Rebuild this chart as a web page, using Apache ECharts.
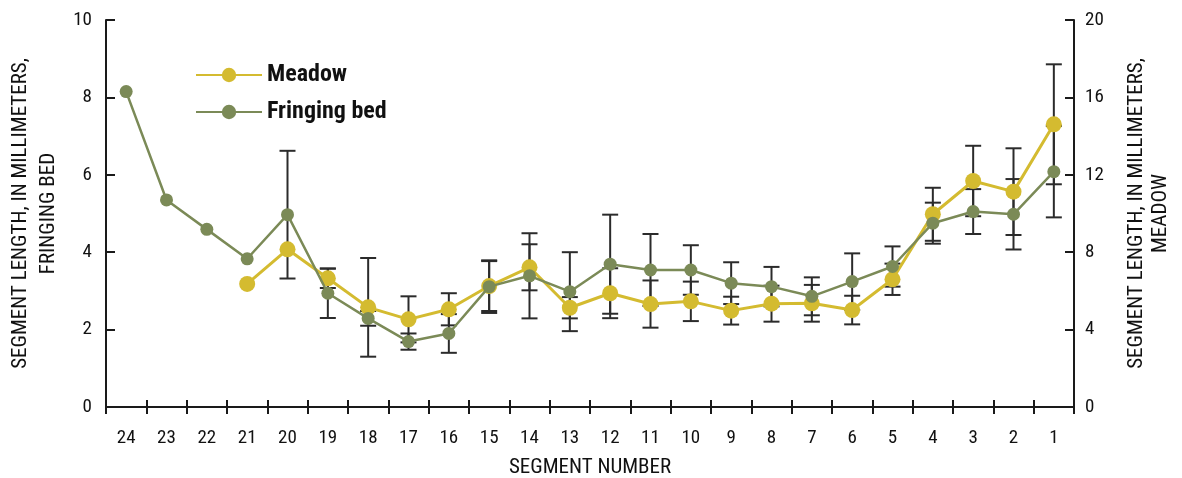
<!DOCTYPE html>
<html>
<head>
<meta charset="utf-8">
<script src="https://cdn.jsdelivr.net/npm/echarts@6/dist/echarts.min.js"></script>
<style>
html,body{margin:0;padding:0;background:#fff;}
#chart{width:1182px;height:478px;}
</style>
</head>
<body>
<div id="chart"></div>
<script>
// Data
var categories = ['24','23','22','21','20','19','18','17','16','15','14','13','12','11','10','9','8','7','6','5','4','3','2','1'];
// Fringing bed (left axis, mm)
var fringing = [8.15, 5.35, 4.59, 3.83, 4.97, 2.94, 2.29, 1.69, 1.90, 3.11, 3.39, 2.98, 3.69, 3.54, 3.54, 3.20, 3.11, 2.86, 3.24, 3.63, 4.75, 5.05, 4.98, 6.08];
var fringingErr = [null, null, null, null, 1.65, 0.64, 0.19, 0.21, 0.50, 0.68, 1.10, 1.02, 1.28, 0.93, 0.64, 0.54, 0.51, 0.49, 0.73, 0.52, 0.53, 0.58, 0.91, 1.18];
// Meadow (right axis, mm)
var meadow = [null, null, null, 6.36, 8.15, 6.65, 5.15, 4.53, 5.05, 6.25, 7.22, 5.13, 5.88, 5.32, 5.46, 4.98, 5.34, 5.36, 5.01, 6.60, 9.96, 11.68, 11.13, 14.61];
var meadowErr = [null, null, null, null, null, 0.50, 2.55, 1.19, 0.83, 1.29, 1.19, 0.55, 1.29, 1.22, 1.02, 0.72, 0.93, 0.95, 0.74, 0.81, 1.37, 1.82, 2.24, 3.10];
var leftTicks = [0, 2, 4, 6, 8, 10];
var rightTicks = [0, 4, 8, 12, 16, 20];

var FONT = "'Liberation Sans Narrow', 'Arial Narrow', 'Roboto Condensed', 'Liberation Sans', sans-serif";
var MEADOW_COLOR = '#d4bb30';
var FRINGE_COLOR = '#7b8a57';
var AXIS_COLOR = '#1a1a1a';

function errData(vals, errs) {
  var out = [];
  for (var i = 0; i < vals.length; i++) {
    if (vals[i] != null && errs[i] != null) out.push([i, vals[i], errs[i]]);
  }
  return out;
}

function renderErr(params, api) {
  var x = api.value(0), y = api.value(1), e = api.value(2);
  var top = api.coord([x, y + e]);
  var bot = api.coord([x, y - e]);
  var hw = 8;
  var st = {stroke: '#2b2b2b', lineWidth: 2};
  return {
    type: 'group',
    children: [
      {type: 'line', shape: {x1: top[0], y1: top[1], x2: bot[0], y2: bot[1]}, style: st},
      {type: 'line', shape: {x1: top[0] - hw, y1: top[1], x2: top[0] + hw, y2: top[1]}, style: st},
      {type: 'line', shape: {x1: bot[0] - hw, y1: bot[1], x2: bot[0] + hw, y2: bot[1]}, style: st}
    ]
  };
}

var chart = echarts.init(document.getElementById('chart'), null, {renderer: 'canvas'});
var axisLine = {show: true, lineStyle: {color: AXIS_COLOR, width: 2}};
var option = {
  animation: false,
  backgroundColor: '#fff',
  textStyle: {fontFamily: FONT},
  grid: {left: 106, right: 108, top: 20, bottom: 71, containLabel: false, outerBoundsMode: 'none'},
  legend: {
    orient: 'vertical',
    left: 190,
    top: 58,
    itemWidth: 66,
    itemHeight: 18,
    itemGap: 13,
    data: ['Meadow', 'Fringing bed'],
    textStyle: {fontFamily: FONT, fontSize: 24, fontWeight: 'bold', color: '#111'}
  },
  xAxis: [{
    type: 'category',
    data: categories,
    position: 'bottom',
    boundaryGap: true,
    axisLine: axisLine,
    axisTick: {show: true, inside: true, length: 7, lineStyle: {color: AXIS_COLOR, width: 2}},
    axisLabel: {fontFamily: FONT, fontSize: 19, color: '#111', margin: 22, interval: 0},
    name: 'SEGMENT NUMBER',
    nameLocation: 'middle',
    nameGap: 50,
    nameTextStyle: {fontFamily: FONT, fontSize: 21, color: '#111'}
  }, {
    type: 'category',
    data: categories,
    position: 'top',
    boundaryGap: true,
    axisLine: axisLine,
    axisTick: {show: true, inside: true, length: 7, lineStyle: {color: AXIS_COLOR, width: 2}},
    axisLabel: {show: false}
  }],
  yAxis: [{
    type: 'value',
    position: 'left',
    min: leftTicks[0],
    max: leftTicks[leftTicks.length - 1],
    interval: 2,
    axisLine: axisLine,
    axisTick: {show: true, inside: true, length: 9, lineStyle: {color: AXIS_COLOR, width: 2}},
    splitLine: {show: false},
    axisLabel: {fontFamily: FONT, fontSize: 19, color: '#111', margin: 14},
    name: 'SEGMENT LENGTH, IN MILLIMETERS,\nFRINGING BED',
    nameLocation: 'middle',
    nameRotate: 90,
    nameGap: 38,
    nameTextStyle: {fontFamily: FONT, fontSize: 21, color: '#111', lineHeight: 28}
  }, {
    type: 'value',
    position: 'right',
    min: rightTicks[0],
    max: rightTicks[rightTicks.length - 1],
    interval: 4,
    axisLine: axisLine,
    axisTick: {show: true, inside: true, length: 9, lineStyle: {color: AXIS_COLOR, width: 2}},
    splitLine: {show: false},
    axisLabel: {fontFamily: FONT, fontSize: 19, color: '#111', margin: 11},
    name: 'SEGMENT LENGTH, IN MILLIMETERS,\nMEADOW',
    nameLocation: 'middle',
    nameRotate: 90,
    nameGap: 51,
    nameTextStyle: {fontFamily: FONT, fontSize: 21, color: '#111', lineHeight: 24}
  }],
  series: [{
    type: 'custom',
    name: 'fringeErr',
    xAxisIndex: 0,
    yAxisIndex: 0,
    renderItem: renderErr,
    encode: {x: 0, y: 1},
    data: errData(fringing, fringingErr),
    z: 1,
    silent: true
  }, {
    type: 'custom',
    name: 'meadowErr',
    xAxisIndex: 0,
    yAxisIndex: 1,
    renderItem: renderErr,
    encode: {x: 0, y: 1},
    data: errData(meadow, meadowErr),
    z: 1,
    silent: true
  }, {
    type: 'line',
    name: 'Meadow',
    xAxisIndex: 0,
    yAxisIndex: 1,
    data: meadow,
    connectNulls: false,
    symbol: 'circle',
    symbolSize: 16,
    itemStyle: {color: MEADOW_COLOR},
    lineStyle: {color: MEADOW_COLOR, width: 3},
    z: 3
  }, {
    type: 'line',
    name: 'Fringing bed',
    xAxisIndex: 0,
    yAxisIndex: 0,
    data: fringing,
    symbol: 'circle',
    symbolSize: 13,
    itemStyle: {color: FRINGE_COLOR},
    lineStyle: {color: FRINGE_COLOR, width: 2.5},
    z: 4
  }]
};
chart.setOption(option);
</script>
</body>
</html>
